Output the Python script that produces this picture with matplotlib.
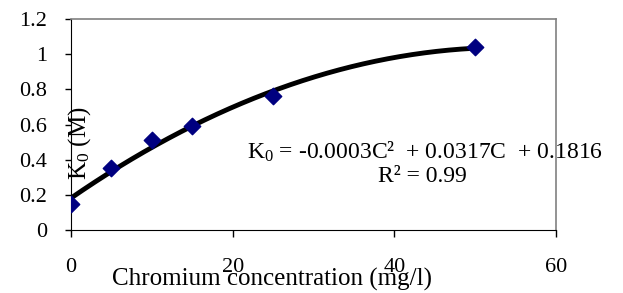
import numpy as np
import matplotlib
matplotlib.use("Agg")
import matplotlib.pyplot as plt

plt.rcParams["mathtext.fontset"] = "custom"
plt.rcParams["mathtext.rm"] = "Liberation Serif"
plt.rcParams["mathtext.it"] = "Liberation Serif:italic"

# data
conc = [0, 5, 10, 15, 25, 50]
k0 = [0.15, 0.35, 0.51, 0.59, 0.76, 1.04]
xticks = [0, 20, 40, 60]
yticks = [0, 0.2, 0.4, 0.6, 0.8, 1.0, 1.2]
ytick_labels = ["0", "0.2", "0.4", "0.6", "0.8", "1", "1.2"]

serif = "Liberation Serif"

fig = plt.figure(figsize=(6.23, 2.93), dpi=100)
ax = fig.add_axes([71 / 623, 1 - 230 / 293, (556 - 71) / 623, (230 - 19) / 293])

# second order trendline
coef = np.polyfit(conc, k0, 2)
xs = np.linspace(0, 50, 200)
ax.plot(xs, np.polyval(coef, xs), color="black", lw=3.5, zorder=2)
ax.scatter(conc, k0, marker="D", s=70, color="#000080", zorder=3)

ax.set_xlim(0, 60)
ax.set_ylim(0, 1.2)
ax.set_xticks(xticks)
ax.set_yticks(yticks)
ax.set_yticklabels(ytick_labels)
ax.tick_params(axis="both", labelfontfamily=serif, labelsize=16)
ax.tick_params(axis="y", direction="out", length=4.5, pad=12.5, width=1)
ax.tick_params(axis="x", direction="out", length=5, pad=15, width=1)

ax.spines["top"].set_color("#808080")
ax.spines["right"].set_color("#808080")
ax.spines["top"].set_linewidth(1.2)
ax.spines["right"].set_linewidth(1.2)

fig.text(272 / 623, 1 - 279 / 293, "Chromium concentration (mg/l)",
         family=serif, fontsize=18, ha="center", va="center")
fig.text(80 / 623, 1 - 143 / 293, r"K$_\mathrm{0}$ (M)", family=serif,
         fontsize=18, rotation=90, ha="center", va="center")
fig.text(425 / 623, 1 - 152 / 293,
         r"K$_\mathrm{0}$ = -0.0003C²  + 0.0317C  + 0.1816",
         family=serif, fontsize=17, ha="center", va="center")
fig.text(422 / 623, 1 - 176 / 293, "R² = 0.99",
         family=serif, fontsize=17, ha="center", va="center")

fig.savefig("out.png", dpi=100)
